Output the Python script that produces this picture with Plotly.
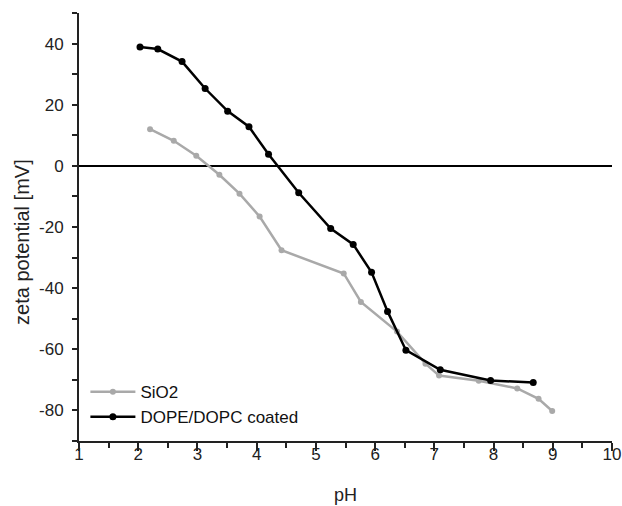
import plotly.graph_objects as go

# SiO2 series
sio2_ph = [2.20, 2.60, 2.98, 3.37, 3.71, 4.05, 4.42, 5.47, 5.76, 6.37, 6.85, 7.08, 7.75, 8.40, 8.76, 8.99]
sio2_zeta = [12.0, 8.2, 3.3, -2.9, -9.1, -16.6, -27.6, -35.2, -44.5, -54.2, -64.7, -68.6, -70.3, -72.8, -76.2, -80.2]

# DOPE/DOPC coated series
coated_ph = [2.03, 2.33, 2.74, 3.13, 3.51, 3.87, 4.20, 4.71, 5.25, 5.63, 5.94, 6.21, 6.52, 7.10, 7.95, 8.67]
coated_zeta = [38.9, 38.2, 34.1, 25.3, 17.9, 12.8, 3.8, -8.8, -20.5, -25.7, -34.8, -47.6, -60.3, -66.7, -70.2, -70.9]

x_ticks = [1, 2, 3, 4, 5, 6, 7, 8, 9, 10]
y_ticks = [-80, -60, -40, -20, 0, 20, 40]
y_tick_labels = ["-80", "-60", "-40", "-20", "0", "20", "40"]

x_title = "pH"
y_title = "zeta potential [mV]"

FONT = "Liberation Sans, Arial, sans-serif"

fig = go.Figure()
fig.add_trace(go.Scatter(
    x=sio2_ph, y=sio2_zeta, mode="lines+markers", name="SiO2",
    line=dict(color="#a9a9a9", width=2.5),
    marker=dict(color="#a9a9a9", size=6),
))
fig.add_trace(go.Scatter(
    x=coated_ph, y=coated_zeta, mode="lines+markers", name="DOPE/DOPC coated",
    line=dict(color="#000000", width=2.5),
    marker=dict(color="#000000", size=7),
))

fig.update_layout(
    width=622, height=506,
    margin=dict(l=79, r=10, t=13, b=65),
    paper_bgcolor="white", plot_bgcolor="white",
    font=dict(family=FONT, size=17, color="#222"),
    showlegend=True,
    legend=dict(
        x=0.012, y=0.085, xanchor="left", yanchor="middle",
        bgcolor="rgba(0,0,0,0)", font=dict(size=17, color="#111"),
        itemwidth=45, tracegroupgap=0,
    ),
    xaxis=dict(
        range=[1, 10], tickvals=x_ticks, showgrid=False, zeroline=False,
        automargin=False,
        showline=True, linecolor="#222", linewidth=2,
        ticks="outside", ticklen=8, tickwidth=2, tickcolor="#222",
        minor=dict(ticks="outside", ticklen=5, tickwidth=2, tickcolor="#222", dtick=0.5),
        tickfont=dict(size=17), ticklabelstandoff=-11,
    ),
    yaxis=dict(
        range=[-90, 50], tickvals=y_ticks, ticktext=y_tick_labels, showgrid=False,
        automargin=False,
        zeroline=True, zerolinecolor="#000", zerolinewidth=2,
        showline=True, linecolor="#222", linewidth=2,
        ticks="outside", ticklen=5, tickwidth=2, tickcolor="#222",
        minor=dict(ticks="outside", ticklen=5, tickwidth=2, tickcolor="#222", dtick=10),
        tickfont=dict(size=17), ticklabelstandoff=5,
    ),
    annotations=[
        dict(text=y_title, xref="paper", yref="paper", x=-0.107, y=0.465,
             xanchor="center", yanchor="middle", textangle=-90, showarrow=False,
             font=dict(size=20, color="#222")),
        dict(text=x_title, xref="paper", yref="paper", x=0.5, y=-0.125,
             xanchor="center", yanchor="middle", showarrow=False,
             font=dict(size=18, color="#222")),
    ],
)

fig.write_html("out.html", config={"displayModeBar": False},
               post_script="document.body.style.margin='0';")
